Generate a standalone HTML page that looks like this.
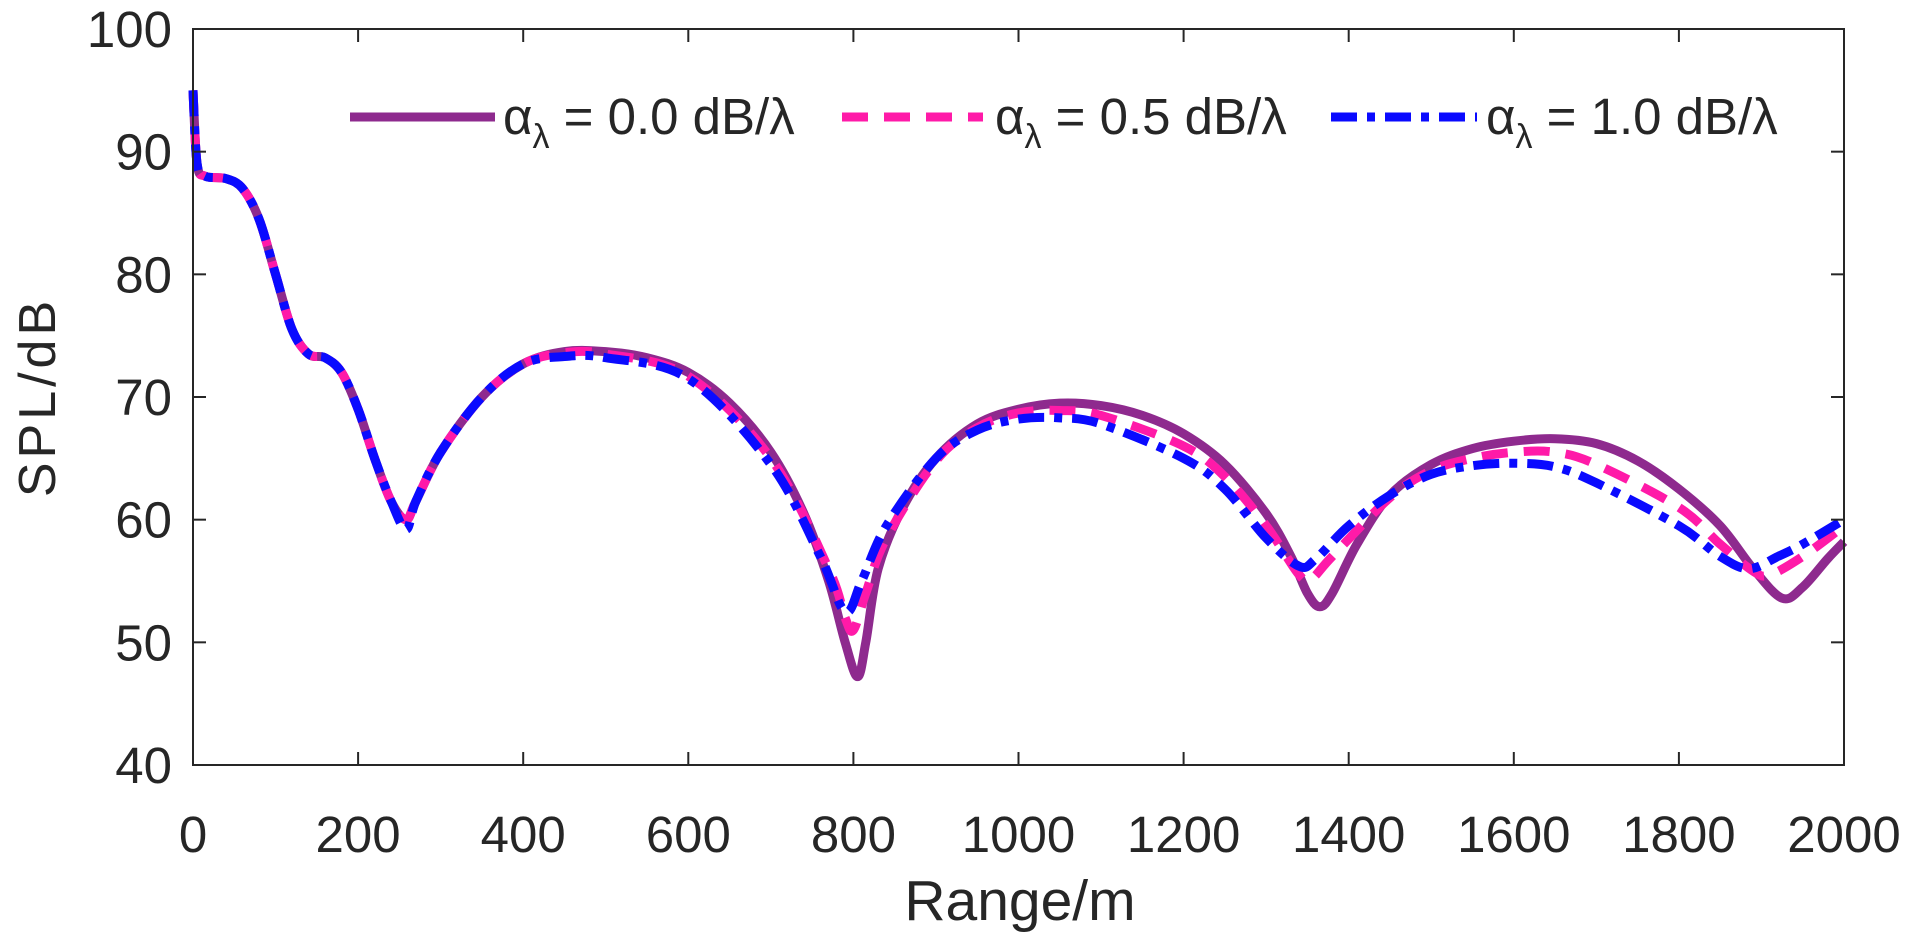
<!DOCTYPE html>
<html><head><meta charset="utf-8"><style>
html,body{margin:0;padding:0;background:#fff;}
svg{display:block;}
text{font-family:"Liberation Sans",Arial,sans-serif;fill:#262626;}
</style></head><body>
<svg id="s" width="1905" height="939" viewBox="0 0 1905 939" xmlns="http://www.w3.org/2000/svg">
<g id="grid"></g>
<g id="curves" fill="none" stroke-linejoin="round"></g>
<rect x="193" y="29" width="1651" height="736" fill="none" stroke="#262626" stroke-width="2"/>
<g id="ticks" stroke="#262626" stroke-width="2"></g>
<g id="labels" font-size="51"></g>
<text x="1020" y="920" font-size="57" text-anchor="middle">Range/m</text>
<text transform="translate(55,397) rotate(-90)" font-size="52" text-anchor="middle" letter-spacing="4">SPL/dB</text>
<g font-size="51">
<line x1="350" y1="117" x2="495" y2="117" stroke="#8e2a8e" stroke-width="9"/>
<text x="503" y="134">α<tspan font-size="34" dy="14">λ</tspan><tspan dy="-14"> = 0.0 dB/λ</tspan></text>
<line x1="842" y1="117" x2="983" y2="117" stroke="#ff1aa8" stroke-width="9" stroke-dasharray="26 16"/>
<text x="995" y="134">α<tspan font-size="34" dy="14">λ</tspan><tspan dy="-14"> = 0.5 dB/λ</tspan></text>
<line x1="1331" y1="117" x2="1477" y2="117" stroke="#0a0aff" stroke-width="9" stroke-dasharray="26 10 8 10"/>
<text x="1486" y="134">α<tspan font-size="34" dy="14">λ</tspan><tspan dy="-14"> = 1.0 dB/λ</tspan></text>
</g>
</svg>
<script>
var X=r=>193+r*1651/2000, Y=v=>29+(100-v)*736/60;
var ns="http://www.w3.org/2000/svg";
function el(p,t,a,txt){var e=document.createElementNS(ns,t);for(var k in a)e.setAttribute(k,a[k]);if(txt!=null)e.textContent=txt;document.getElementById(p).appendChild(e);}
for(var r=0;r<=2000;r+=200){var x=X(r);el("ticks","line",{x1:x,y1:765,x2:x,y2:752});el("ticks","line",{x1:x,y1:29,x2:x,y2:42});
el("labels","text",{x:x,y:852,"text-anchor":"middle"},r);}
for(var v=40;v<=100;v+=10){var y=Y(v);el("ticks","line",{x1:193,y1:y,x2:206,y2:y});el("ticks","line",{x1:1844,y1:y,x2:1831,y2:y});
el("labels","text",{x:172,y:y+18,"text-anchor":"end"},v);}
var base=[[0,95],[5,89],[15,88],[40,87.8],[60,87],[80,84.5],[100,80],[120,75.5],[140,73.5],[160,73.2],[180,72],[200,69],[220,65],[240,61.5],[258,60],[270,61.5],[300,65.5],[350,70],[400,72.7]];
var A=base.concat([[450,73.7],[500,73.7],[550,73.2],[600,72],[650,69.5],[700,65.5],[740,60.5],[770,55],[790,50],[805,47.2],[815,50],[830,56],[860,61],[900,65],[950,67.8],[1000,69],[1050,69.5],[1100,69.3],[1150,68.5],[1200,67],[1250,64.5],[1300,60.5],[1330,57],[1350,54],[1365,52.9],[1380,54],[1410,58],[1450,62],[1500,64.5],[1550,65.8],[1600,66.4],[1650,66.6],[1700,66.2],[1750,64.8],[1800,62.5],[1850,59.5],[1890,56],[1925,53.6],[1950,54.5],[1980,56.8],[2000,58.2]]);
var B=base.concat([[450,73.6],[500,73.5],[600,71.7],[700,65],[770,56],[790,52],[800,51],[815,54],[840,58.5],[900,64.8],[950,67.5],[1000,68.7],[1050,68.9],[1100,68.5],[1200,66],[1250,63.5],[1300,59.5],[1340,55.5],[1355,55.2],[1380,57],[1450,61.8],[1500,64],[1550,65],[1600,65.5],[1650,65.5],[1700,64.5],[1800,61],[1850,58],[1890,55.8],[1910,55.5],[1950,57],[2000,59.5]]);
var Cb=base.map(p=>p[0]==258?[258,59.2]:p);
var C=Cb.concat([[450,73.3],[500,73.2],[600,71.5],[700,64.5],[760,57],[790,52.5],[810,55],[840,59.5],[900,65],[950,67.3],[1000,68.2],[1050,68.3],[1100,67.8],[1200,65],[1250,62.5],[1300,58.5],[1340,56.2],[1360,56.8],[1400,59.5],[1450,62],[1500,63.7],[1550,64.4],[1600,64.6],[1650,64.3],[1700,63],[1800,59.5],[1850,57],[1885,56],[1920,57],[1950,58],[2000,60]]);
function path(d){var p=d.map(q=>[X(q[0]),Y(q[1])]);var s="M"+p[0][0]+","+p[0][1];
for(var i=0;i<p.length-1;i++){var p0=p[i-1]||p[i],p1=p[i],p2=p[i+1],p3=p[i+2]||p2;
s+=" C"+(p1[0]+(p2[0]-p0[0])/6)+","+(p1[1]+(p2[1]-p0[1])/6)+" "+(p2[0]-(p3[0]-p1[0])/6)+","+(p2[1]-(p3[1]-p1[1])/6)+" "+p2[0]+","+p2[1];}return s;}
el("curves","path",{d:path(A),stroke:"#8e2a8e","stroke-width":9});
el("curves","path",{d:path(B),stroke:"#ff1aa8","stroke-width":9,"stroke-dasharray":"26 16"});
el("curves","path",{d:path(C),stroke:"#0a0aff","stroke-width":9,"stroke-dasharray":"26 10 8 10"});
</script>
</body></html>
